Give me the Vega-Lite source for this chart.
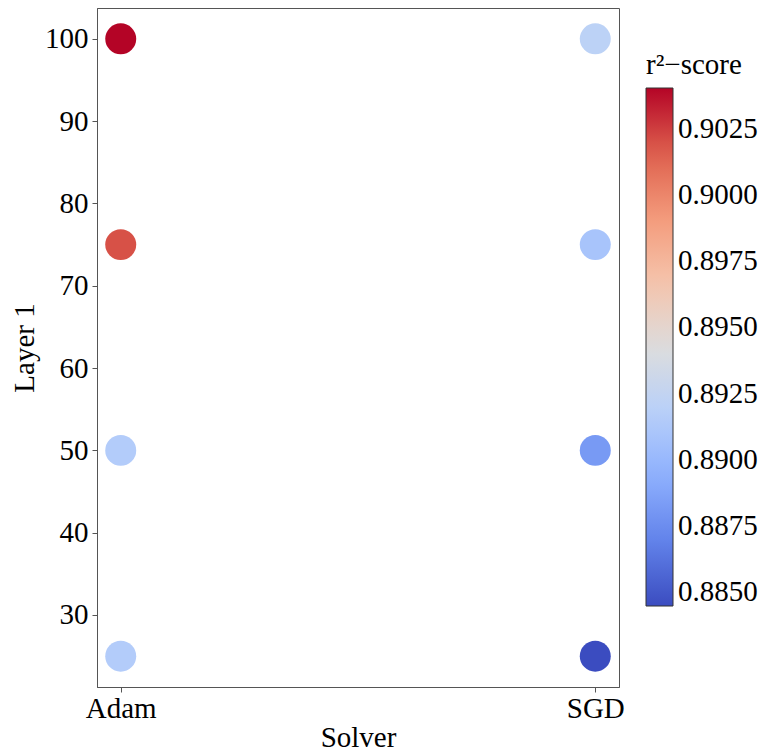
{
  "$schema": "https://vega.github.io/schema/vega-lite/v6.json",
  "width": 522,
  "height": 679,
  "autosize": {"type": "none"},
  "padding": {"left": 97, "top": 8, "right": 145, "bottom": 64},
  "background": "white",
  "config": {
    "font": "Liberation Serif",
    "view": {"stroke": "#555555", "strokeWidth": 1},
    "axis": {
      "grid": false,
      "domainColor": "#555555",
      "tickColor": "#555555",
      "tickSize": 5,
      "labelFontSize": 29,
      "titleFontSize": 29,
      "labelColor": "#000000",
      "titleColor": "#000000",
      "labelFont": "Liberation Serif",
      "titleFont": "Liberation Serif",
      "titleFontWeight": "normal"
    }
  },
  "data": {
    "values": [
      {"Solver": "Adam", "Layer 1": 25, "r2": 0.89152},
      {"Solver": "Adam", "Layer 1": 50, "r2": 0.89152},
      {"Solver": "Adam", "Layer 1": 75, "r2": 0.90199},
      {"Solver": "Adam", "Layer 1": 100, "r2": 0.90405},
      {"Solver": "SGD", "Layer 1": 25, "r2": 0.88447},
      {"Solver": "SGD", "Layer 1": 50, "r2": 0.88819},
      {"Solver": "SGD", "Layer 1": 75, "r2": 0.89093},
      {"Solver": "SGD", "Layer 1": 100, "r2": 0.89211}
    ]
  },
  "mark": {"type": "circle", "size": 960, "opacity": 1},
  "encoding": {
    "x": {
      "field": "Solver",
      "type": "nominal",
      "scale": {"type": "point", "padding": 0.05},
      "axis": {"labelAngle": 0, "labelPadding": 2, "titlePadding": 0, "title": "Solver"}
    },
    "y": {
      "field": "Layer 1",
      "type": "quantitative",
      "scale": {"domain": [21.25, 103.75], "nice": false, "zero": false},
      "axis": {"values": [30, 40, 50, 60, 70, 80, 90, 100], "labelPadding": 4, "titlePadding": 5, "title": "Layer 1"}
    },
    "color": {
      "field": "r2",
      "type": "quantitative",
      "scale": {
        "domain": [0.88447, 0.8869175, 0.889365, 0.8918125, 0.89426, 0.8967075, 0.899155, 0.9016025, 0.90405],
        "range": ["#3b4cc0", "#6282ea", "#8db0fe", "#b8d0f9", "#dddddd", "#f5c4ac", "#f49a7b", "#de604d", "#b40426"],
        "interpolate": "rgb"
      },
      "legend": {
        "title": "r²−score",
        "orient": "none",
        "legendX": 549,
        "legendY": 43,
        "direction": "vertical",
        "gradientLength": 518,
        "gradientThickness": 27,
        "gradientStrokeColor": "#333333",
        "gradientStrokeWidth": 1,
        "values": [0.885, 0.8875, 0.89, 0.8925, 0.895, 0.8975, 0.9, 0.9025],
        "format": ".4f",
        "labelFontSize": 29,
        "labelFont": "Liberation Serif",
        "labelColor": "#000000",
        "labelOffset": 5,
        "labelOverlap": false,
        "titleFontSize": 29,
        "titleFont": "Liberation Serif",
        "titleFontWeight": "normal",
        "titleColor": "#000000",
        "titlePadding": 8
      }
    }
  }
}
